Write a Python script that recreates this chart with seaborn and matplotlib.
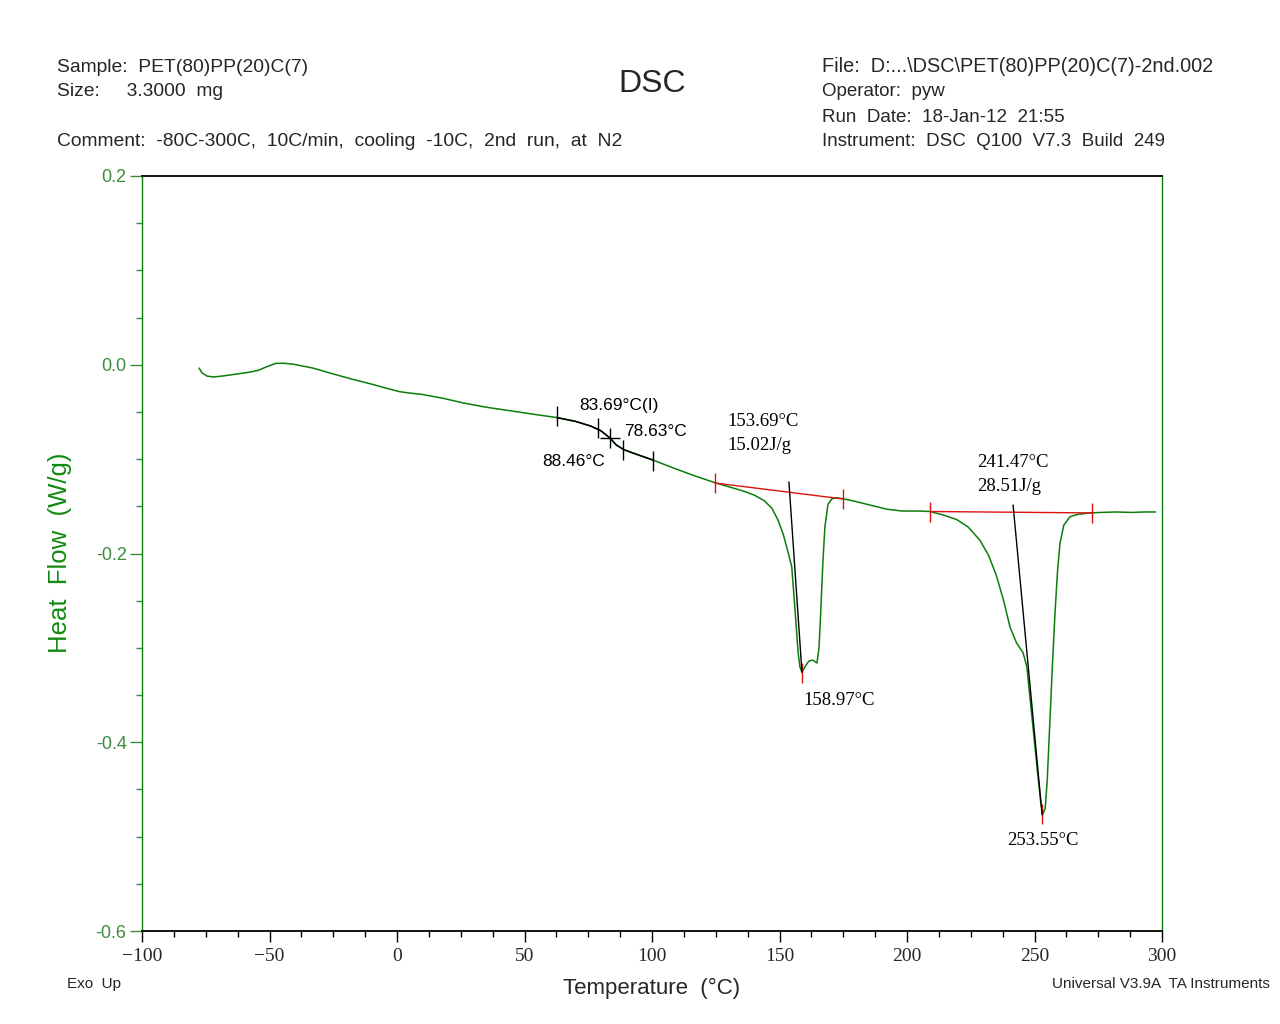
import numpy as np
import pandas as pd
import matplotlib
matplotlib.use("Agg")
import matplotlib.pyplot as plt
from matplotlib.ticker import MultipleLocator, FixedLocator
import seaborn as sns

# ---------------- data ----------------
temp = [-77.6, -76.5, -74.5, -72.0, -68.0, -62.0, -57.0, -54.0, -51.0, -47.5,
        -44.0, -40.5, -33.0, -26.0, -18.0, -10.0, -4.0, 1.0, 5.0, 10.0,
        18.0, 26.0, 35.0, 45.0, 55.0, 62.7, 70.0, 76.0, 80.0, 83.5,
        86.0, 89.0, 93.0, 100.4, 108.0, 116.0, 124.7, 131.0, 136.0, 140.0,
        144.0, 147.0, 149.5, 151.5, 153.0, 154.8, 156.1, 157.3, 158.0, 158.8,
        160.0, 161.5, 163.0, 164.7, 165.5, 166.2, 167.0, 167.8, 169.0, 170.5,
        172.5, 175.0, 180.0, 186.0, 192.0, 198.0, 205.0, 209.0, 214.0, 219.5,
        224.0, 228.6, 232.0, 235.0, 237.8, 240.4, 243.0, 245.5, 247.0, 248.5,
        250.0, 251.5, 252.5, 253.3, 254.2, 255.0, 256.0, 257.0, 258.0, 259.0,
        260.0, 261.5, 263.9, 267.0, 271.8, 276.0, 282.0, 288.0, 293.0, 297.5]
heat_flow = [-0.0035, -0.0085, -0.0120, -0.0130, -0.0118, -0.0095, -0.0075, -0.0055, -0.0020, 0.0015,
             0.0015, 0.0005, -0.0035, -0.0090, -0.0150, -0.0205, -0.0250, -0.0285, -0.0300, -0.0315,
             -0.0355, -0.0405, -0.0450, -0.0490, -0.0530, -0.0560, -0.0600, -0.0650, -0.0700, -0.0776,
             -0.0850, -0.0900, -0.0940, -0.1010, -0.1090, -0.1170, -0.1250, -0.1300, -0.1340, -0.1380,
             -0.1440, -0.1520, -0.1650, -0.1800, -0.1950, -0.2140, -0.2600, -0.3050, -0.3200, -0.3260,
             -0.3200, -0.3140, -0.3130, -0.3160, -0.3000, -0.2600, -0.2100, -0.1720, -0.1480, -0.1420,
             -0.1410, -0.1420, -0.1450, -0.1490, -0.1530, -0.1550, -0.1550, -0.1555, -0.1590, -0.1640,
             -0.1720, -0.1860, -0.2020, -0.2230, -0.2490, -0.2780, -0.2950, -0.3050, -0.3200, -0.3600,
             -0.4000, -0.4400, -0.4650, -0.4760, -0.4700, -0.4400, -0.3800, -0.3200, -0.2650, -0.2200,
             -0.1890, -0.1700, -0.1610, -0.1585, -0.1570, -0.1565, -0.1560, -0.1565, -0.1560, -0.1560]

# glass transition analysis (black segment + tick marks)
tg_range = [62.7, 100.4]
tg_tick_T = [62.7, 78.8, 88.6, 100.4]
tg_tick_H = [-0.0545, -0.0670, -0.0903, -0.1015]
tg_cross_T = [83.5]
tg_cross_H = [-0.0776]

# melting peak integration baselines (red)
base1_T = [124.7, 174.9]
base1_H = [-0.1253, -0.1422]
base2_T = [209.0, 272.5]
base2_H = [-0.1555, -0.1570]
peak_T = [158.8, 253.0]
peak_H = [-0.3266, -0.4760]

# onset tangent lines (black)
onset1_T = [153.7, 158.8]
onset1_H = [-0.1242, -0.3256]
onset2_T = [241.6, 253.0]
onset2_H = [-0.1486, -0.4770]

# annotations
ann_sans = [("83.69°C(I)", 71.6, -0.0427), ("78.63°C", 89.0, -0.0703), ("88.46°C", 56.9, -0.1021)]
ann_serif = [("153.69°C\n15.02J/g", 129.4, -0.0515),
             ("158.97°C", 159.2, -0.3470),
             ("241.47°C\n28.51J/g", 227.5, -0.0950),
             ("253.55°C", 239.2, -0.4950)]

x_ticks = [-100, -50, 0, 50, 100, 150, 200, 250, 300]
x_tick_labels = ["\u2212100", "\u221250", "0", "50", "100", "150", "200", "250", "300"]
y_ticks = [0.2, 0.0, -0.2, -0.4, -0.6]
y_tick_labels = ["0.2", "0.0", "-0.2", "-0.4", "-0.6"]

# ---------------- style ----------------
sns.set_style("white")
plt.rcParams['font.family'] = ['Liberation Sans', 'DejaVu Sans']

GREEN = '#0b7d0b'
LABEL_GREEN = '#138a13'
TICK_GREEN = '#3d8b3d'
RED = '#e01010'

fig = plt.figure(figsize=(12.8, 10.24), dpi=100)
ax = fig.add_axes([142/1280, 1 - 931/1024, 1020/1280, 755/1024])

df = pd.DataFrame({"Temperature": temp, "HeatFlow": heat_flow})
sns.lineplot(data=df, x="Temperature", y="HeatFlow", ax=ax, color=GREEN, linewidth=1.1)
mask = (df["Temperature"] >= tg_range[0]) & (df["Temperature"] <= tg_range[1])
sns.lineplot(data=df[mask], x="Temperature", y="HeatFlow", ax=ax, color='black', linewidth=1.1)

# baselines
ax.plot(base1_T, base1_H, color=RED, lw=1.0)
ax.plot(base2_T, base2_H, color=RED, lw=1.0)
ax.plot(base1_T + base2_T + peak_T, base1_H + base2_H + peak_H, ls='none',
        marker='|', ms=14, mew=1.0, color=RED)
# onset lines
ax.plot(onset1_T, onset1_H, color='black', lw=1.0)
ax.plot(onset2_T, onset2_H, color='black', lw=1.0)
# Tg marks
ax.plot(tg_tick_T, tg_tick_H, ls='none', marker='|', ms=14, mew=1.0, color='black')
ax.plot(tg_cross_T, tg_cross_H, ls='none', marker='+', ms=14, mew=1.0, color='black')

for txt, x, y in ann_sans:
    ax.text(x, y, txt, fontsize=12.5, color='black', ha='left', va='center',
            family=['Liberation Sans', 'DejaVu Sans'])
for txt, x, y in ann_serif:
    ax.text(x, y, txt, fontsize=13.5, color='black', ha='left', va='top', linespacing=1.5,
            family=['Liberation Serif', 'DejaVu Serif'])

# axes limits & ticks
ax.set_xlim(-100, 300)
ax.set_ylim(-0.6, 0.2)
ax.xaxis.set_major_locator(FixedLocator(x_ticks))
ax.set_xticklabels(x_tick_labels, family=['Liberation Serif', 'DejaVu Serif'], fontsize=14)
ax.xaxis.set_minor_locator(MultipleLocator(12.5))
ax.yaxis.set_major_locator(FixedLocator(y_ticks))
ax.set_yticklabels(y_tick_labels, fontsize=13, color=TICK_GREEN)
ax.yaxis.set_minor_locator(MultipleLocator(0.05))
ax.tick_params(axis='x', which='major', direction='out', length=8, width=1, color='black', pad=4)
ax.tick_params(axis='x', which='minor', direction='out', length=4, width=1, color='black')
ax.tick_params(axis='y', which='major', direction='out', length=9, width=1, color=TICK_GREEN, pad=2)
ax.tick_params(axis='y', which='minor', direction='out', length=4, width=1, color=TICK_GREEN)
ax.tick_params(bottom=True, left=True, top=False, right=False, which='both')

for s in ['left', 'right']:
    ax.spines[s].set_color(GREEN)
    ax.spines[s].set_linewidth(1.0)
for s in ['top', 'bottom']:
    ax.spines[s].set_color('black')
    ax.spines[s].set_linewidth(1.3)
ax.grid(False)

ax.set_xlabel("")
ax.set_ylabel("")
fig.text(652/1280, 1 - 988/1024, "Temperature  (°C)", fontsize=16, ha='center', va='center')
fig.text(60/1280, 1 - 553/1024, "Heat  Flow  (W/g)", fontsize=18.5, ha='center', va='center',
         rotation=90, color=LABEL_GREEN)

# header
hfs = 13.9
rfs = 13.5
fig.text(57/1280, 1 - 67/1024, "Sample:  PET(80)PP(20)C(7)", fontsize=hfs, va='center', ha='left')
fig.text(57/1280, 1 - 92/1024, "Size:     3.3000  mg", fontsize=hfs, va='center', ha='left')
fig.text(57/1280, 1 - 142/1024, "Comment:  -80C-300C,  10C/min,  cooling  -10C,  2nd  run,  at  N2",
         fontsize=hfs, va='center', ha='left')
fig.text(652/1280, 1 - 84/1024, "DSC", fontsize=23, va='center', ha='center')
fig.text(822/1280, 1 - 67/1024, "File:  D:...\\DSC\\PET(80)PP(20)C(7)-2nd.002", fontsize=14.3, va='center', ha='left')
fig.text(822/1280, 1 - 92/1024, "Operator:  pyw", fontsize=rfs, va='center', ha='left')
fig.text(822/1280, 1 - 117/1024, "Run  Date:  18-Jan-12  21:55", fontsize=rfs, va='center', ha='left')
fig.text(822/1280, 1 - 142/1024, "Instrument:  DSC  Q100  V7.3  Build  249", fontsize=rfs, va='center', ha='left')

# footer
fig.text(67/1280, 1 - 984/1024, "Exo  Up", fontsize=11, va='center', ha='left')
fig.text(1270/1280, 1 - 984/1024, "Universal V3.9A  TA Instruments", fontsize=11, va='center', ha='right')

fig.savefig("out.png", dpi=100)
